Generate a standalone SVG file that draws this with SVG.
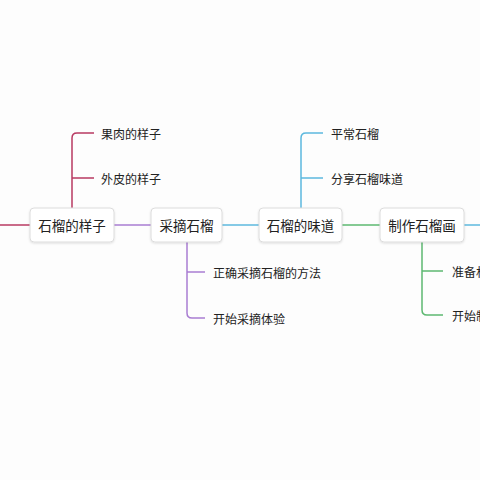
<svg xmlns="http://www.w3.org/2000/svg" width="480" height="480" viewBox="0 0 480 480">
<defs>
<filter id="sh" x="-10%" y="-20%" width="120%" height="150%">
<feDropShadow dx="0" dy="1" stdDeviation="1" flood-color="#000" flood-opacity="0.12"/>
</filter>
</defs>
<style>
.box{fill:#fff;stroke:#dcdcdc;stroke-width:1;filter:url(#sh)}
.t{font-family:"Noto Sans CJK SC","Noto Sans",sans-serif;font-size:13.5px;fill:#222;text-anchor:middle;dominant-baseline:central}
.s{font-family:"Noto Sans CJK SC","Noto Sans",sans-serif;font-size:12px;fill:#222;dominant-baseline:central}
.c{fill:none;stroke-width:1.5}
.red{stroke:#b83a62}
.pur{stroke:#a97dd2}
.blu{stroke:#5cb8de}
.grn{stroke:#5db871}
</style>
<rect width="480" height="480" fill="#fdfdfd"/>
<g id="connectors">
<path class="c red" d="M0 225H30"/>
<path class="c pur" d="M114 225H151"/>
<path class="c blu" d="M222 225H259"/>
<path class="c grn" d="M342 225H380"/>
<path class="c blu" d="M464 225H480"/>
<path class="c red" d="M72 208V138Q72 133 77 133H94M72 178H94"/>
<path class="c blu" d="M301 208V138Q301 133 306 133H323M301 178H323"/>
<path class="c pur" d="M187 242V313Q187 318 192 318H205M187 272H205"/>
<path class="c grn" d="M422 242V310Q422 315 427 315H443M422 271H443"/>
</g>
<g id="n1"><rect class="box" x="30" y="208" width="84" height="34" rx="4"/><text class="t" x="72" y="225">石榴的样子</text></g>
<g id="n2"><rect class="box" x="151" y="208" width="71" height="34" rx="4"/><text class="t" x="186.5" y="225">采摘石榴</text></g>
<g id="n3"><rect class="box" x="259" y="208" width="83" height="34" rx="4"/><text class="t" x="300.5" y="225">石榴的味道</text></g>
<g id="n4"><rect class="box" x="380" y="208" width="84" height="34" rx="4"/><text class="t" x="422" y="225">制作石榴画</text></g>
<g id="n1a"><text class="s" x="101" y="133">果肉的样子</text></g>
<g id="n1b"><text class="s" x="101" y="178">外皮的样子</text></g>
<g id="n3a"><text class="s" x="331" y="133">平常石榴</text></g>
<g id="n3b"><text class="s" x="331" y="178">分享石榴味道</text></g>
<g id="n2a"><text class="s" x="213" y="272">正确采摘石榴的方法</text></g>
<g id="n2b"><text class="s" x="213" y="318">开始采摘体验</text></g>
<g id="n4a"><text class="s" x="452" y="271">准备材料</text></g>
<g id="n4b"><text class="s" x="452" y="315">开始制作</text></g>
</svg>
